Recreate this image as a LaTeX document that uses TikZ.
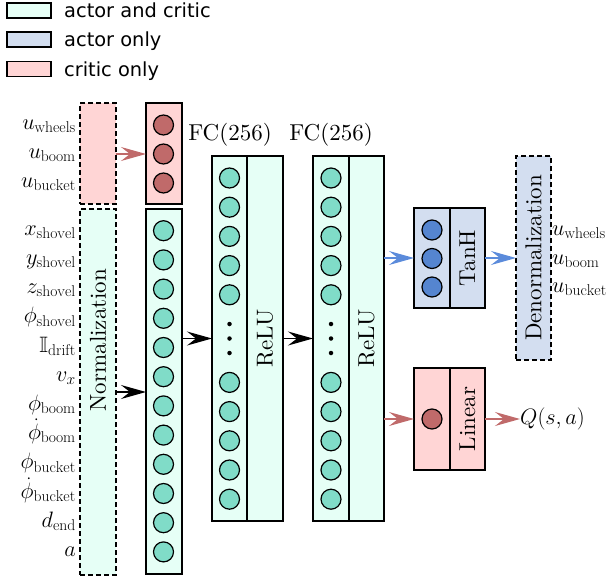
\RequirePackage{fix-cm}
\documentclass[tikz,border=0pt]{standalone}
\usepackage{amssymb}
\usepackage{fontspec}
\setmainfont{lmroman10-regular.otf}[BoldFont=lmroman10-bold.otf, ItalicFont=lmroman10-italic.otf]
\setmathrm{Latin Modern Roman}
\newfontfamily\legendfont{DejaVu Sans}
\usetikzlibrary{arrows.meta}
\definecolor{mint}{HTML}{E6FFF6}
\definecolor{mintc}{HTML}{80DCC8}
\definecolor{pinkf}{HTML}{FFD5D5}
\definecolor{redc}{HTML}{C06A6A}
\definecolor{bluef}{HTML}{D3DEF0}
\definecolor{bluec}{HTML}{5585D0}
\definecolor{bluea}{HTML}{5B8BDB}
\begin{document}
\begin{tikzpicture}[x=1pt,y=-1pt,
  box/.style={draw=black, line width=1.4pt, rectangle, inner sep=0pt, outer sep=0pt},
  dbox/.style={box, dash pattern=on 5pt off 3pt},
  neuron/.style={circle, draw=black, line width=1.2pt, minimum size=20pt, inner sep=0pt},
  dotn/.style={circle, fill=black, minimum size=4.5pt, inner sep=0pt},
  lbl/.style={font=\fontsize{23}{27}\selectfont, inner sep=0pt},
  mlbl/.style={font=\fontsize{22.3}{26}\selectfont, inner sep=0pt},
  leg/.style={font=\legendfont\fontsize{19.4}{23}\selectfont, inner sep=0pt},
  legbox/.style={draw=black, line width=1.2pt, minimum width=44pt, minimum height=15pt, inner sep=0pt},
  arr/.style={-{Stealth[length=25pt,width=14pt,inset=9pt]}, line width=1.4pt},
]
\useasboundingbox (0,0) rectangle (610,578);

% legend
\node[legbox, fill=mint] (lg1) at (29,10.5) {};
\node[legbox, fill=bluef] (lg2) at (29,39.5) {};
\node[legbox, fill=pinkf] (lg3) at (29,69) {};
\node[leg, anchor=base west] (lt1) at (64,18) {actor and critic};
\node[leg, anchor=base west] (lt2) at (64,47) {actor only};
\node[leg, anchor=base west] (lt3) at (64,76) {critic only};

% input boxes
\node[dbox, fill=pinkf, minimum width=36pt, minimum height=101pt] (inc) at (98,153.5) {};
\node[dbox, fill=mint, minimum width=36pt, minimum height=366pt] (norm) at (98,392) {};
\node[lbl, rotate=90] (normt) at (98,340) {Normalization};

% critic input labels
\node[mlbl, anchor=base east] (iu1) at (76,129.5) {$u_{\mathrm{wheels}}$};
\node[mlbl, anchor=base east] (iu2) at (76,158.5) {$u_{\mathrm{boom}}$};
\node[mlbl, anchor=base east] (iu3) at (76,187.5) {$u_{\mathrm{bucket}}$};

% state labels
\foreach \t [count=\i from 0] in {x_{\mathrm{shovel}}, y_{\mathrm{shovel}}, z_{\mathrm{shovel}}, \phi_{\mathrm{shovel}}, \mathbb{I}_{\mathrm{drift}}, v_x, \phi_{\mathrm{boom}}, \dot{\phi}_{\mathrm{boom}}, \phi_{\mathrm{bucket}}, \dot{\phi}_{\mathrm{bucket}}, d_{\mathrm{end}}, a}
  \node[mlbl, anchor=base east] (is\i) at (76,{235.2+29.2*\i}) {$\t$};

% layer 1
\node[box, fill=pinkf, minimum width=36pt, minimum height=101pt] (l1t) at (164,153.5) {};
\node[box, fill=mint, minimum width=36pt, minimum height=365pt] (l1b) at (164,391.5) {};
\foreach \i in {0,1,2}
  \node[neuron, fill=redc] (n1t\i) at (163.5,{125+29*\i}) {};
\foreach \i in {0,...,11}
  \node[neuron, fill=mintc] (n1b\i) at (163.5,{230.7+29.2*\i}) {};

% layer 2
\node[box, fill=mint, minimum width=35pt, minimum height=365pt] (l2a) at (229.5,338.5) {};
\node[box, fill=mint, minimum width=36pt, minimum height=365pt] (l2b) at (265,338.5) {};
\node[lbl, rotate=90] (l2t) at (265,338.5) {ReLU};
\node[lbl] (fc1) at (230,135) {FC(256)};
% layer 3
\node[box, fill=mint, minimum width=36pt, minimum height=365pt] (l3a) at (331,338.5) {};
\node[box, fill=mint, minimum width=35pt, minimum height=365pt] (l3b) at (366.5,338.5) {};
\node[lbl, rotate=90] (l3t) at (366.5,338.5) {ReLU};
\node[lbl] (fc2) at (331,135) {FC(256)};
\foreach \i in {0,1,2,3,4,7,8,9,10,11} {
  \node[neuron, fill=mintc] (n2\i) at (229.5,{178+29.2*\i}) {};
  \node[neuron, fill=mintc] (n3\i) at (331,{178+29.2*\i}) {};
}
\foreach \i in {0,1,2} {
  \node[dotn] (d2\i) at (229.5,{324+14.5*\i}) {};
  \node[dotn] (d3\i) at (331,{324+14.5*\i}) {};
}

% actor head
\node[box, fill=bluef, minimum width=36pt, minimum height=100pt] (tha) at (432,258) {};
\node[box, fill=bluef, minimum width=35pt, minimum height=100pt] (thb) at (467.5,258) {};
\node[lbl, rotate=90] (tht) at (467.5,258) {TanH};
\foreach \i in {0,1,2}
  \node[neuron, fill=bluec] (na\i) at (432,{230+28.5*\i}) {};

\node[dbox, fill=bluef, minimum width=35pt, minimum height=204pt] (den) at (533.5,258) {};
\node[lbl, rotate=90] (dent) at (533.5,258) {Denormalization};
\node[mlbl, anchor=base west] (ou1) at (552,235) {$u_{\mathrm{wheels}}$};
\node[mlbl, anchor=base west] (ou2) at (552,264) {$u_{\mathrm{boom}}$};
\node[mlbl, anchor=base west] (ou3) at (552,292) {$u_{\mathrm{bucket}}$};

% critic head
\node[box, fill=pinkf, minimum width=36pt, minimum height=102pt] (lia) at (432,419) {};
\node[box, fill=pinkf, minimum width=35pt, minimum height=102pt] (lib) at (467.5,419) {};
\node[lbl, rotate=90] (lit) at (467.5,419) {Linear};
\node[neuron, fill=redc] (nc) at (432,419) {};
\node[mlbl, anchor=west] (q) at (520,419) {$Q(s,a)$};

% arrows
\draw[arr, draw=redc] (inc.east |- n1t1) -- (l1t.west |- n1t1);
\draw[arr] (norm.east) -- (l1b.west |- norm.east);
\draw[arr] (l1b.east |- l2a.west) -- (l2a.west);
\draw[arr] (l2b.east) -- (l3a.west);
\draw[arr, draw=bluea] (l3b.east |- tha.west) -- (tha.west);
\draw[arr, draw=bluea] (thb.east) -- (den.west);
\draw[arr, draw=redc] (l3b.east |- lia.west) -- (lia.west);
\draw[arr, draw=redc] (lib.east) -- (q.west);
\end{tikzpicture}
\end{document}
